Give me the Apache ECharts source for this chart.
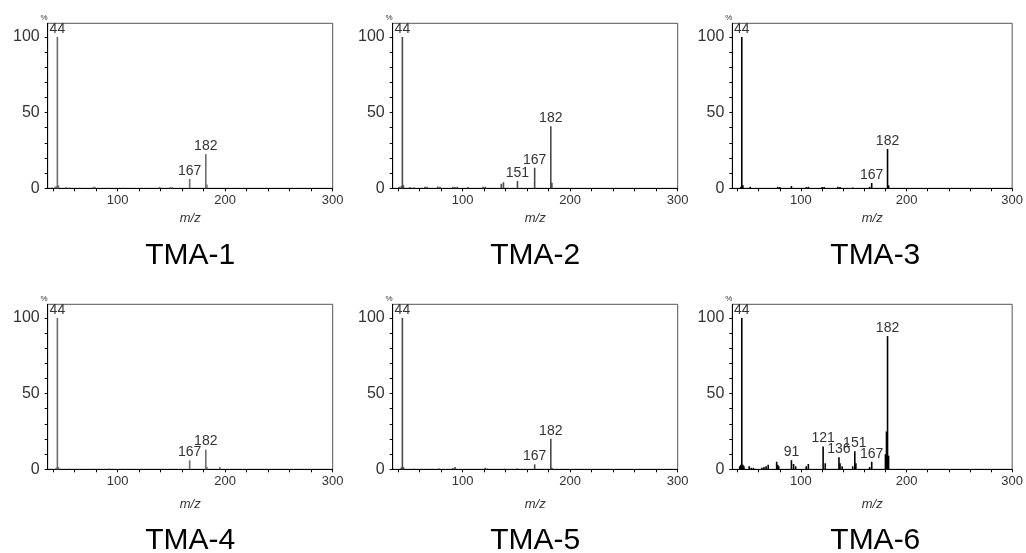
<!DOCTYPE html>
<html>
<head>
<meta charset="utf-8">
<script src="https://cdn.jsdelivr.net/npm/echarts@6/dist/echarts.min.js"></script>
<style>html,body{margin:0;padding:0;background:#fff}#main{width:1026px;height:553px}</style>
</head>
<body>
<div id="main"></div>
<script>
var myChart = echarts.init(document.getElementById('main'));

var names = ['TMA-1', 'TMA-2', 'TMA-3', 'TMA-4', 'TMA-5', 'TMA-6'];

var mz1 = [39, 42, 43, 44, 45, 52, 55, 65, 77, 78, 79, 91, 105, 139, 149, 151, 167, 182, 183];
var ab1 = [0.5, 1, 1.5, 100, 2, 0.8, 0.5, 0.3, 0.6, 1, 0.8, 0.3, 0.3, 1, 0.8, 0.8, 6.2, 22.6, 2.5];
var lab1 = [44, 167, 182];

var mz2 = [41, 43, 44, 45, 51, 55, 65, 67, 77, 79, 91, 93, 95, 105, 119, 121, 136, 138, 151, 167, 182, 183];
var ab2 = [1, 1.5, 100, 2, 0.8, 0.6, 1, 1, 1.2, 1, 1, 0.8, 1, 0.8, 1, 1, 3, 4, 4.8, 13.6, 41, 3.7];
var lab2 = [44, 151, 167, 182];

var mz3 = [43, 44, 45, 52, 78, 80, 91, 105, 107, 120, 122, 135, 137, 149, 165, 167, 182, 183];
var ab3 = [1, 100, 2, 1, 1, 0.8, 1.5, 0.8, 1, 0.8, 0.8, 1, 0.8, 0.5, 1, 3.5, 26, 2];
var lab3 = [44, 167, 182];

var mz4 = [43, 44, 45, 55, 65, 77, 92, 105, 167, 182, 183, 195];
var ab4 = [1.2, 100, 1.5, 0.4, 0.3, 0.3, 0.5, 0.3, 5.9, 13, 1.5, 1.5];
var lab4 = [44, 167, 182];

var mz5 = [43, 44, 45, 55, 78, 91, 93, 121, 123, 139, 151, 167, 182, 183];
var ab5 = [1.2, 100, 1.5, 0.4, 0.5, 0.8, 1.5, 1, 0.5, 0.4, 0.6, 3.3, 20.2, 1];
var lab5 = [44, 167, 182];

var mz6 = [42, 43, 44, 45, 46, 51, 53, 55, 63, 65, 67, 69, 77, 78, 79, 91, 93, 95, 105, 107, 121, 123, 136, 137, 139, 149, 151, 152, 165, 167, 180, 181, 182, 183];
var ab6 = [2, 3, 100, 3, 2, 2, 1, 1, 1, 1.5, 2, 3, 5, 3, 2, 6, 3.5, 2, 2, 3.5, 15, 4, 8, 4, 2, 2, 12, 4, 1.5, 5, 10, 25, 88, 9];
var lab6 = [44, 91, 121, 136, 151, 167, 182];

var yTicks = [0, 10, 20, 30, 40, 50, 60, 70, 80, 90, 100];
var yLabels = [0, 50, 100];
var xTicks = [40, 60, 80, 100, 120, 140, 160, 180, 200, 220, 240, 260, 280, 300];
var xLabels = [100, 200, 300];

var mzs = [mz1, mz2, mz3, mz4, mz5, mz6];
var abs = [ab1, ab2, ab3, ab4, ab5, ab6];
var labs = [lab1, lab2, lab3, lab4, lab5, lab6];

// panel layout
var colLeft = [47.7, 392.7, 732.3];
var colWidth = [285, 285, 286];
var rowTop = [23.3, 304.3];
var boxH = 165;
var titleY = [256, 541];
var nameGaps = [24, 29];
var colors = ['#6e6e6e', '#4a4a4a', '#000', '#6e6e6e', '#4a4a4a', '#000'];
var font = 'Liberation Sans, Arial, sans-serif';

var grids = [], xAxes = [], yAxes = [], series = [], graphics = [];

for (var i = 0; i < 6; i++) {
    var c = i % 3, r = Math.floor(i / 3);
    grids.push({
        left: colLeft[c], top: rowTop[r], width: colWidth[c], height: boxH,
        show: true, borderColor: '#555', borderWidth: 1
    });
    xAxes.push({
        type: 'value', gridIndex: i, min: 35, max: 300,
        name: 'm/z', nameLocation: 'middle', nameGap: nameGaps[r],
        nameTextStyle: { fontStyle: 'italic', fontSize: 13, color: '#333', fontFamily: font },
        axisLine: { show: true, onZero: false, lineStyle: { color: '#000', width: 1 } },
        axisTick: { show: true, length: 3, customValues: xTicks, lineStyle: { color: '#000' } },
        axisLabel: { customValues: xLabels, fontSize: 13, margin: 6, color: '#333', fontFamily: font },
        splitLine: { show: false }
    });
    yAxes.push({
        type: 'value', gridIndex: i, min: 0, max: 109,
        name: '%', nameLocation: 'end', nameGap: 2,
        nameTextStyle: { fontSize: 8, color: '#333', align: 'right', fontFamily: font },
        axisLine: { show: true, lineStyle: { color: '#000', width: 1 } },
        axisTick: { show: true, length: 3, customValues: yTicks, lineStyle: { color: '#000' } },
        axisLabel: { customValues: yLabels, fontSize: 16, margin: 8, color: '#333', fontFamily: font },
        splitLine: { show: false }
    });
    var data = mzs[i].map(function (m, k) {
        var item = { value: [m, abs[i][k]] };
        if (labs[i].indexOf(m) >= 0) item.label = { show: true };
        return item;
    });
    series.push({
        type: 'bar', xAxisIndex: i, yAxisIndex: i,
        barWidth: 1.6, silent: true,
        itemStyle: { color: colors[i] },
        label: {
            show: false, position: 'top', distance: 1, color: '#333', fontSize: 14, fontFamily: font,
            formatter: function (p) { return p.value[0]; }
        },
        data: data
    });
    graphics.push({
        type: 'text', x: colLeft[c] + colWidth[c] / 2, y: titleY[r],
        style: { text: names[i], fill: '#000', font: '30px ' + font, align: 'center', verticalAlign: 'middle' }
    });
}

option = {
    backgroundColor: '#fff',
    animation: false,
    grid: grids,
    xAxis: xAxes,
    yAxis: yAxes,
    series: series,
    graphic: graphics
};
myChart.setOption(option);
</script>
</body>
</html>
